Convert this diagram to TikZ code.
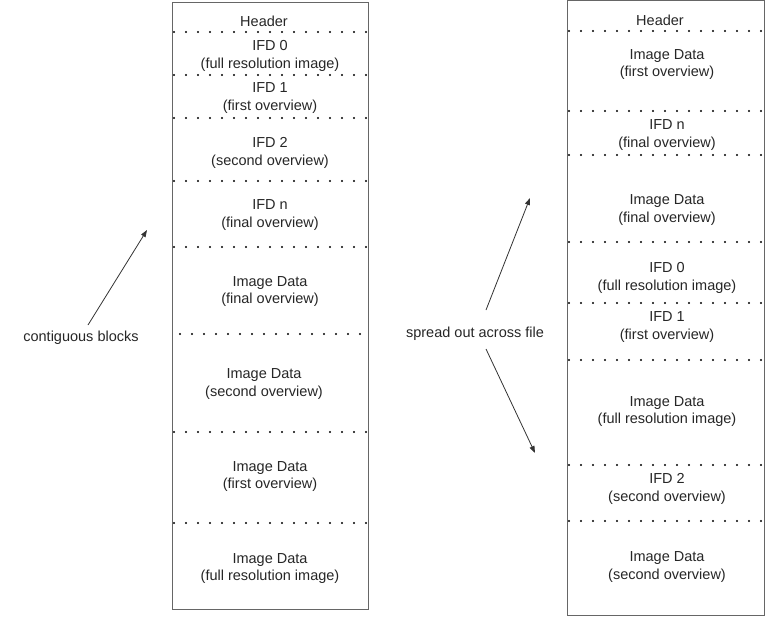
\documentclass[tikz,border=0pt]{standalone}
\usepackage{fontspec}
\setmainfont{Liberation Sans}
\usetikzlibrary{arrows.meta}
\begin{document}
\begin{tikzpicture}[x=1pt,y=-1pt,
  box/.style={draw=black!60,line width=0.9pt},
  sep/.style={line width=2.4pt,line cap=round,dash pattern=on 0pt off 12pt,black},
  lbl/.style={font=\fontsize{14.5}{17.5}\selectfont,text=black!85,align=center,inner sep=0pt},
  arr/.style={-{Triangle[length=7pt,width=5pt]},line width=0.8pt,black!80}]
\useasboundingbox (0,0) rectangle (768,616);
% boxes
\draw[box] (172,2) rectangle (368,609);
\draw[box] (567,0) rectangle (764,615);
% left separators
\foreach \y in {32,75,118,181,247,432,523} \draw[sep] (174,\y) -- (368,\y);
\draw[sep] (180,334) -- (368,334);
% right separators
\foreach \y in {31,111,155,242,303,360,465,521} \draw[sep] (569,\y) -- (764,\y);
% left labels
\node[lbl] (l0) at (264,21) {Header};
\node[lbl] (l1) at (270,56) {IFD 0\\(full resolution image)};
\node[lbl] (l2) at (270,98) {IFD 1\\(first overview)};
\node[lbl] (l3) at (270,153) {IFD 2\\(second overview)};
\node[lbl] (l4) at (270,215) {IFD n\\(final overview)};
\node[lbl] (l5) at (270,291.5) {Image Data\\(final overview)};
\node[lbl] (l6) at (264,384) {Image Data\\(second overview)};
\node[lbl] (l7) at (270,476.5) {Image Data\\(first overview)};
\node[lbl] (l8) at (270,568.5) {Image Data\\(full resolution image)};
% right labels
\node[lbl] (r0) at (660,20) {Header};
\node[lbl] (r1) at (667,64.5) {Image Data\\(first overview)};
\node[lbl] (r2) at (667,135) {IFD n\\(final overview)};
\node[lbl] (r3) at (667,210) {Image Data\\(final overview)};
\node[lbl] (r4) at (667,278) {IFD 0\\(full resolution image)};
\node[lbl] (r5) at (667,327) {IFD 1\\(first overview)};
\node[lbl] (r6) at (667,411.5) {Image Data\\(full resolution image)};
\node[lbl] (r7) at (667,489) {IFD 2\\(second overview)};
\node[lbl] (r8) at (667,567) {Image Data\\(second overview)};
% side labels and arrows
\node[lbl] (cb) at (81,338) {contiguous blocks};
\node[lbl] (so) at (475,334) {spread out across file};
\coordinate (cbs) at (88,325);
\coordinate (cbe) at (147,230);
\coordinate (sus) at (486,310);
\coordinate (sue) at (530,198);
\coordinate (sds) at (486,349);
\coordinate (sde) at (535,453);
\draw[arr] (cbs) -- (cbe);
\draw[arr] (sus) -- (sue);
\draw[arr] (sds) -- (sde);
\end{tikzpicture}
\end{document}
